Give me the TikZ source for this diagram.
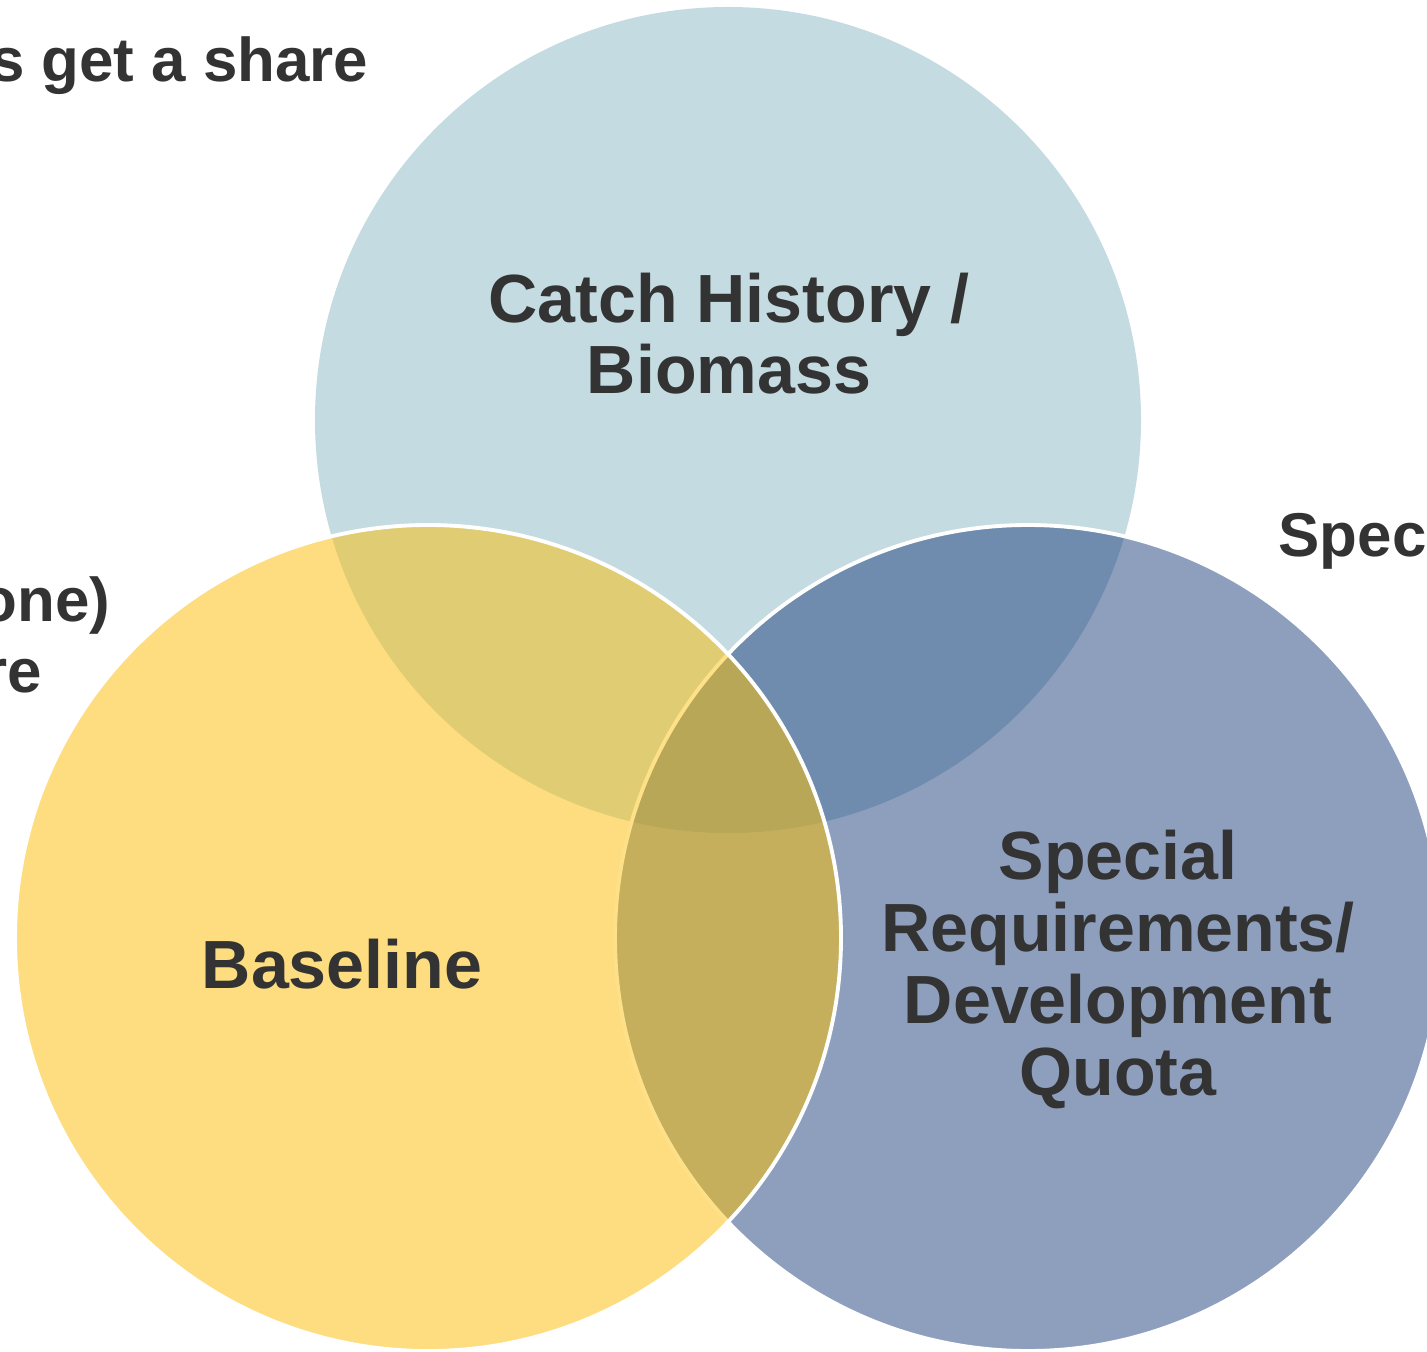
\documentclass[tikz,border=0pt]{standalone}
\usepackage{fontspec}
\setmainfont{Liberation Sans}
\usepackage{tkz-base}
\usepackage{tkz-euclide}

\definecolor{azulclaro}{HTML}{C4DBE1}
\definecolor{amarillo}{HTML}{FDDD80}
\definecolor{grisazul}{HTML}{8E9FBE}
\definecolor{azulosc}{HTML}{6F8CAE}
\definecolor{ocre}{HTML}{E0CC72}
\definecolor{oliva}{HTML}{C5AF5C}
\definecolor{olivaosc}{HTML}{B8A757}
\definecolor{bordeam}{HTML}{FEE088}
\definecolor{texto}{HTML}{333333}

\tikzset{
  etiqueta/.style={font=\fontsize{19.4}{20.4}\selectfont\bfseries, text=texto,
    align=center, inner sep=0pt, anchor=base},
  lateral/.style={etiqueta, font=\fontsize{17.6}{19}\selectfont\bfseries},
  borde/.style={draw=white, line width=1.1pt}
}

\begin{document}
\begin{tikzpicture}
        % Marco de la figura (14.27 x 13.52).
        \useasboundingbox (0,0) rectangle (14.27,-13.52);

        % Centros A, B, C de los tres circulos y un punto sobre cada uno.
        \tkzDefPoint(7.28,-4.20){A}
        \tkzDefPoint(4.28,-9.38){B}
        \tkzDefPoint(10.28,-9.38){C}
        \tkzDefShiftPoint[A](90:4.13){a}
        \tkzDefShiftPoint[B](90:4.13){b}
        \tkzDefShiftPoint[C](90:4.13){c}

        % Circulo superior y circulo de la derecha con su interseccion.
        \tkzFillCircle[color=azulclaro](A,a)
        \tkzFillCircle[color=grisazul](C,c)
        \begin{scope}
          \tkzClipCircle(A,a)
          \tkzFillCircle[color=azulosc](C,c)
        \end{scope}
        \tkzDrawCircle[borde](C,c)

        % Circulo de la izquierda y sus intersecciones.
        \tkzFillCircle[color=amarillo](B,b)
        \begin{scope}
          \tkzClipCircle(B,b)
          \tkzFillCircle[color=ocre](A,a)
          \tkzFillCircle[color=oliva](C,c)
          \tkzClipCircle(C,c)
          \tkzFillCircle[color=olivaosc](A,a)
        \end{scope}
        \begin{scope}
          \tkzClipCircle(B,b)
          \tkzDrawCircle[draw=bordeam, line width=1.1pt](C,c)
        \end{scope}
        \tkzDrawCircle[borde](B,b)

        % Textos de cada circulo (ancla en la base de la ultima linea).
        \node[etiqueta] (catch) at (7.29,-3.94) {Catch History /\\Biomass};
        \node[etiqueta] (base) at (3.42,-9.88) {Baseline};
        \node[etiqueta] (special) at (11.18,-10.95) {Special\\Requirements/\\Development\\Quota};

        % Textos cortados en los bordes.
        \node[lateral, anchor=base east] (share) at (3.69,-0.82) {s get a share};
        \node[lateral, anchor=base east] (one) at (1.11,-6.22) {one)};
        \node[lateral, anchor=base east] (re) at (0.43,-6.93) {re};
        \node[lateral, anchor=base west] (spec) at (12.78,-5.57) {Spec};
    \end{tikzpicture}
\end{document}
